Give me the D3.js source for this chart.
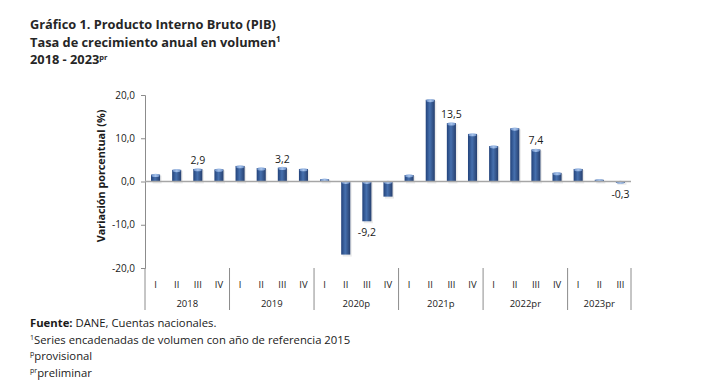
<!DOCTYPE html>
<html><head><meta charset="utf-8">
<script src="https://cdn.jsdelivr.net/npm/d3@7"></script>
<style>
html,body{margin:0;padding:0;background:#fff;}
svg{display:block;font-family:"Open Sans",sans-serif;}
</style></head>
<body>
<svg id="chart" width="710" height="388"></svg>
<script>
const quarters = ["I","II","III","IV","I","II","III","IV","I","II","III","IV","I","II","III","IV","I","II","III","IV","I","II","III"];
const years = ["2018","2019","2020p","2021p","2022pr","2023pr"];
const yearCounts = [4,4,4,4,4,3];
const values = [1.6,2.7,2.9,2.8, 3.6,3.1,3.2,2.9, 0.5,-16.9,-9.2,-3.5, 1.5,18.9,13.5,11.0, 8.2,12.3,7.4,2.0, 2.9,0.4,-0.3];
const labelled = [2,6,10,14,18,22];
const yTicks = [-20,-10,0,10,20];

const svg = d3.select("#chart");
const defs = svg.append("defs");
const g1 = defs.append("linearGradient").attr("id","barg").attr("x1","0").attr("x2","1").attr("y1","0").attr("y2","0");
g1.append("stop").attr("offset","0%").attr("stop-color","#22427a");
g1.append("stop").attr("offset","45%").attr("stop-color","#4670ae");
g1.append("stop").attr("offset","100%").attr("stop-color","#263f6e");
const g2 = defs.append("linearGradient").attr("id","capg").attr("x1","0").attr("x2","1");
g2.append("stop").attr("offset","0%").attr("stop-color","#6a8fc8");
g2.append("stop").attr("offset","50%").attr("stop-color","#a6c2ea");
g2.append("stop").attr("offset","100%").attr("stop-color","#6a8fc8");

const x = d3.scaleBand().domain(d3.range(values.length)).range([145,631]).paddingInner(0.57).paddingOuter(0.285);
const y = d3.scaleLinear().domain([-20,20]).range([268,95]);
const fmt = v => d3.format(".1f")(v).replace(".",",").replace("−","-");

// title
const TS = 12.8;
const title = svg.append("text").attr("x",30).attr("font-weight","bold").attr("font-size",TS).attr("fill","#262626");
title.append("tspan").attr("x",30).attr("y",29).text("Gráfico 1. Producto Interno Bruto (PIB)");
const t2 = svg.append("text").attr("x",30).attr("y",47).attr("font-weight","bold").attr("font-size",TS).attr("fill","#262626");
t2.append("tspan").text("Tasa de crecimiento anual en volumen");
t2.append("tspan").attr("font-size",8).attr("dy",-5).text("1");
const t3 = svg.append("text").attr("x",30).attr("y",64).attr("font-weight","bold").attr("font-size",TS).attr("fill","#262626");
t3.append("tspan").text("2018 - 2023");
t3.append("tspan").attr("font-size",7.5).attr("dy",-4).text("pr");

// y axis
const yAxis = d3.axisLeft(y).tickValues(yTicks).tickFormat(fmt).tickSize(4).tickPadding(6);
const ya = svg.append("g").attr("transform","translate(145,0)").call(yAxis);
ya.select(".domain").attr("stroke","#8c8c8c");
ya.selectAll(".tick line").attr("stroke","#8c8c8c");
ya.selectAll(".tick text").attr("font-size",10).attr("fill","#1a1a1a").attr("font-family","Open Sans, sans-serif");

svg.append("text").attr("transform","translate(105,176) rotate(-90)").attr("text-anchor","middle")
  .attr("font-weight","bold").attr("font-size",10.8).attr("fill","#1a1a1a").text("Variación porcentual (%)");

// shadows
svg.append("g").selectAll("rect").data(values).join("rect")
  .attr("x",(d,i)=>x(i)+1.5).attr("width",x.bandwidth())
  .attr("y",d=>Math.min(y(d),y(0))+1).attr("height",d=>Math.abs(y(d)-y(0))+1)
  .attr("fill","#000").attr("opacity",0.08);

// bars
svg.append("g").selectAll("rect").data(values).join("rect")
  .attr("x",(d,i)=>x(i)).attr("width",x.bandwidth())
  .attr("y",d=>Math.min(y(d),y(0))).attr("height",d=>Math.max(Math.abs(y(d)-y(0)),1))
  .attr("fill","url(#barg)");
svg.append("g").selectAll("ellipse").data(values).join("ellipse")
  .attr("cx",(d,i)=>x(i)+x.bandwidth()/2).attr("cy",d=>Math.min(y(d),y(0))+0.8)
  .attr("rx",x.bandwidth()/2-0.5).attr("ry",1.6)
  .attr("fill","url(#capg)");

// zero line
svg.append("line").attr("x1",145).attr("x2",631).attr("y1",y(0)).attr("y2",y(0))
  .attr("stroke","#a6a6a6").attr("stroke-width",1.5);

// data labels
svg.append("g").selectAll("text").data(labelled).join("text")
  .attr("x",i=>x(i)+x.bandwidth()/2)
  .attr("y",i=>values[i]>=0 ? y(values[i])-5 : y(values[i])+15)
  .attr("text-anchor","middle").attr("font-size",10.5).attr("fill","#1a1a1a")
  .text(i=>fmt(values[i]));

// category axis
const step = x.step();
const xg = svg.append("g");
xg.selectAll("text.q").data(quarters).join("text").attr("class","q")
  .attr("x",(d,i)=>x(i)+x.bandwidth()/2).attr("y",288).attr("text-anchor","middle")
  .attr("font-size",9.5).attr("fill","#1a1a1a").text(d=>d);
let start = 0;
const bounds = [];
yearCounts.forEach((c,k)=>{
  const left = x(start) - (step - x.bandwidth())/2;
  const right = left + c*step;
  bounds.push(left);
  xg.append("text").attr("x",(left+right)/2).attr("y",307).attr("text-anchor","middle")
    .attr("font-size",9.5).attr("fill","#1a1a1a").text(years[k]);
  start += c;
  if(k===yearCounts.length-1) bounds.push(right);
});
xg.selectAll("line").data(bounds).join("line")
  .attr("x1",d=>d).attr("x2",d=>d).attr("y1",268).attr("y2",310)
  .attr("stroke","#8c8c8c").attr("stroke-width",1);

// footnotes
const fn = svg.append("g").attr("font-size",11.3).attr("fill","#1a1a1a");
const f1 = fn.append("text").attr("x",30).attr("y",327);
f1.append("tspan").attr("font-weight","bold").text("Fuente:");
f1.append("tspan").text(" DANE, Cuentas nacionales.");
const f2 = fn.append("text").attr("x",30).attr("y",344);
f2.append("tspan").attr("font-size",7).attr("dy",-4).text("1");
f2.append("tspan").attr("dy",4).text("Series encadenadas de volumen con año de referencia 2015");
const f3 = fn.append("text").attr("x",30).attr("y",360);
f3.append("tspan").attr("font-size",7).attr("dy",-4).text("p");
f3.append("tspan").attr("dy",4).text("provisional");
const f4 = fn.append("text").attr("x",30).attr("y",377);
f4.append("tspan").attr("font-size",7).attr("dy",-4).text("pr");
f4.append("tspan").attr("dy",4).text("preliminar");
</script>
</body></html>
